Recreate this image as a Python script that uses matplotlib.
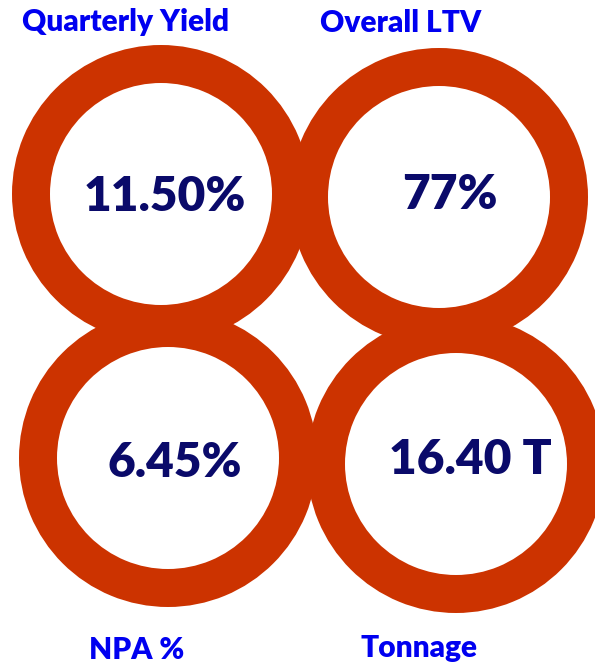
import matplotlib
matplotlib.use('Agg')
from matplotlib import pyplot as plt
from matplotlib.patches import Wedge

# data
labels = ['Quarterly Yield', 'Overall LTV', 'NPA %', 'Tonnage']
values = ['11.50%', '77%', '6.45%', '16.40 T']

# layout (pixel coords, y down)
ring_centers = [(161, 194), (439, 197), (168, 458), (456, 464)]
value_pos = [(165, 197), (450, 195), (175, 463), (470, 460)]
label_pos = [(126, 22), (401, 23), (137, 650), (419, 648)]
r_outer, ring_w = 149, 38

ring_color = '#CC3300'
label_color = '#0000F0'
value_color = '#0A0A6A'

plt.rcParams['font.family'] = ['Lato', 'DejaVu Sans']

fig = plt.figure(figsize=(5.95, 6.68), dpi=100)
ax = fig.add_axes([0, 0, 1, 1])
ax.set_xlim(0, 595)
ax.set_ylim(668, 0)
ax.set_aspect('equal')
ax.axis('off')

for c in ring_centers:
    ax.add_patch(Wedge(c, r_outer, 0, 360, width=ring_w, color=ring_color, lw=0))

for (x, y), v in zip(value_pos, values):
    ax.text(x, y, v, ha='center', va='center', fontsize=34.5, fontweight='heavy', color=value_color)

for (x, y), lab in zip(label_pos, labels):
    ax.text(x, y, lab, ha='center', va='center', fontsize=21.5, fontweight='heavy', color=label_color)

fig.savefig('out.png', dpi=100)
